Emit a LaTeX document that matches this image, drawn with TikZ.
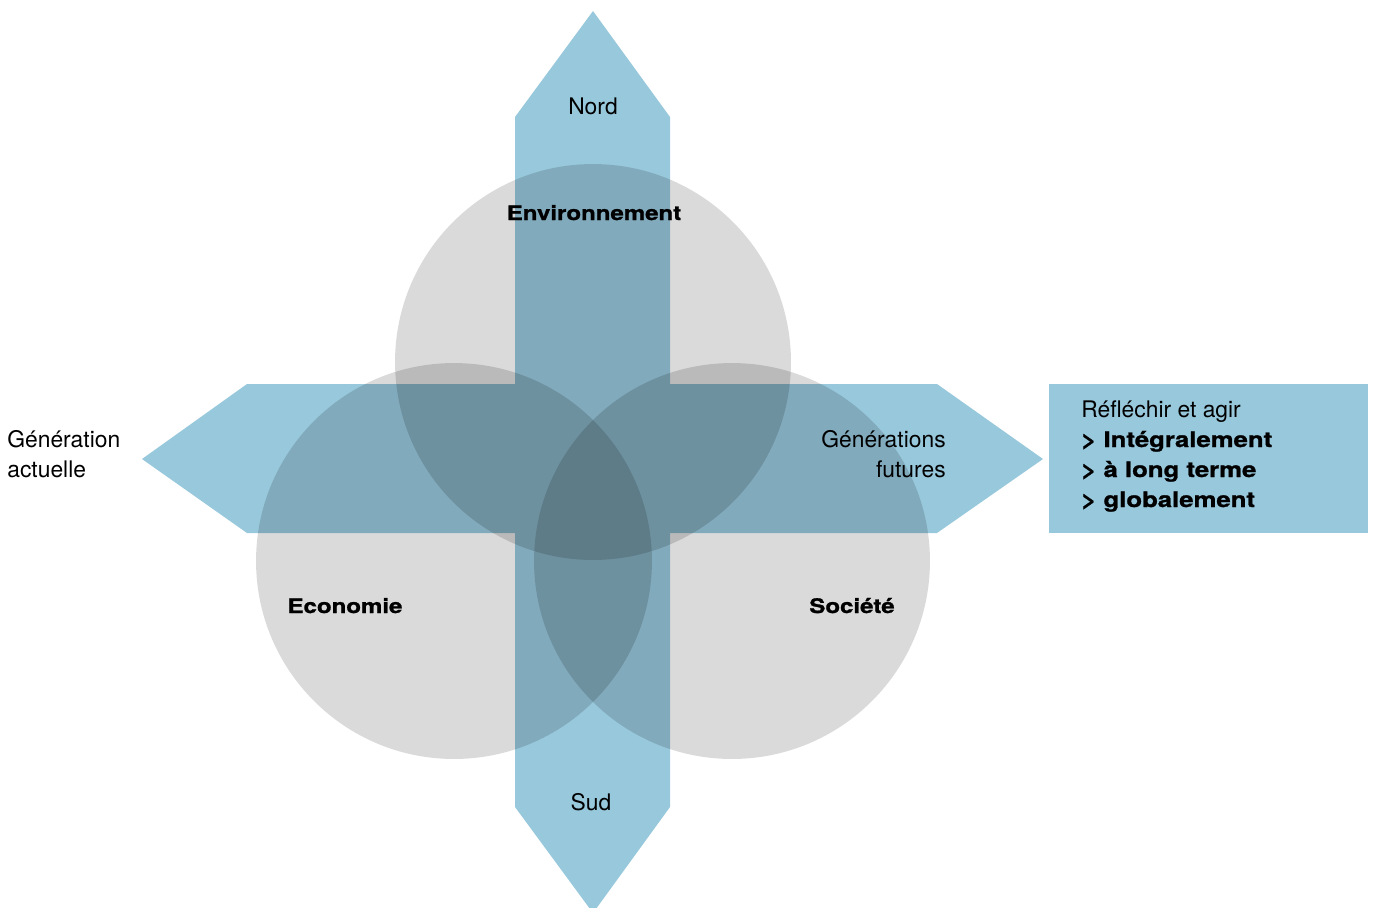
\documentclass[tikz,border=0pt]{standalone}
\usepackage{fontspec}
\setmainfont{TeX Gyre Heros}
\newfontfamily\heavy[FakeStretch=1.2,FakeBold=1.2]{TeX Gyre Heros}
\definecolor{pfeil}{RGB}{152,200,220}

\begin{document}
\begin{tikzpicture}[x=0.02cm,y=-0.02cm,
  every node/.style={inner sep=0pt,anchor=base,font=\fontsize{13}{17}\selectfont},
  fett/.style={font=\heavy\bfseries\fontsize{11.4}{17}\selectfont},
  fettklein/.style={font=\heavy\bfseries\fontsize{12.2}{17}\selectfont}]
\useasboundingbox (0,0) rectangle (1373,907);
\def\r{3.96cm}
% Pfeile
\fill[pfeil] (593,11) -- (670,117) -- (670,807) -- (593,913) -- (515,807) -- (515,117) -- cycle;
\fill[pfeil] (142,459) -- (247,384) -- (937,384) -- (1043,459) -- (937,533) -- (247,533) -- cycle;
% Kreise
\fill[black,fill opacity=0.145] (593,362) circle[radius=\r];
\fill[black,fill opacity=0.145] (454,561) circle[radius=\r];
\fill[black,fill opacity=0.145] (732,561) circle[radius=\r];
% Kasten
\fill[pfeil] (1049,384) rectangle (1368,533);

\node (nord) at (593,114) {Nord};
\node (sud) at (591,810) {Sud};
\node[fett] (umwelt) at (594,220) {Environnement};
\node[fett] (wirtschaft) at (345,613) {Economie};
\node[fett] (gesellschaft) at (852,613) {Société};
\node[anchor=base west] (heute1) at (7,447) {Génération};
\node[anchor=base west] (heute2) at (7,477) {actuelle};
\node[anchor=base east] (morgen1) at (946,447) {Générations};
\node[anchor=base east] (morgen2) at (946,477) {futures};
\node[anchor=base west] (k1) at (1081,417) {Réfléchir et agir};
\node[anchor=base west,fettklein] (k2) at (1081,447) {> Intégralement};
\node[anchor=base west,fettklein] (k3) at (1081,477) {> à long terme};
\node[anchor=base west,fettklein] (k4) at (1081,507) {> globalement};
\end{tikzpicture}
\end{document}
